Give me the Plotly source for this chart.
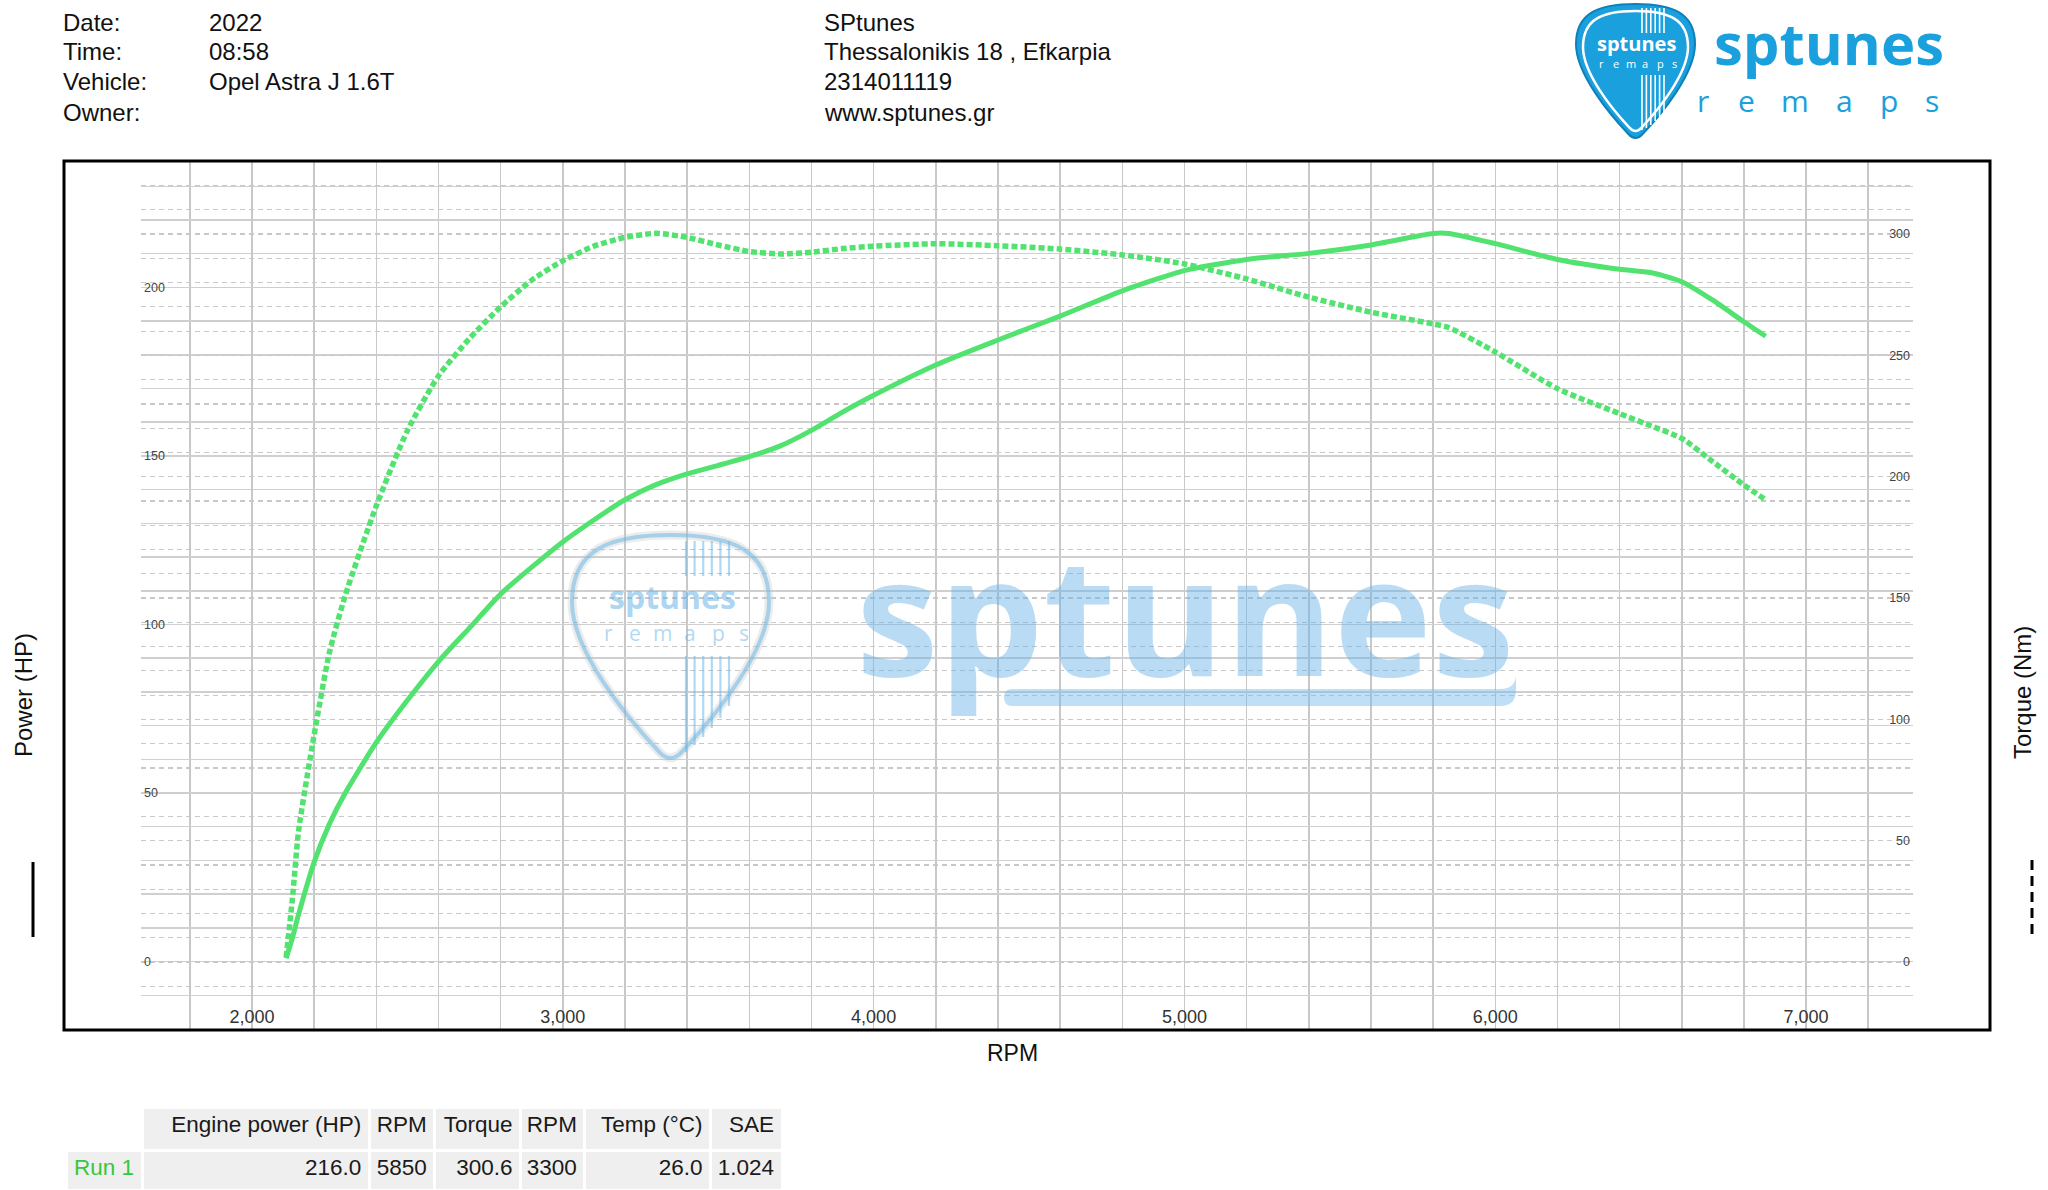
import plotly.graph_objects as go

# ---------------- data ----------------
rpm = [2110, 2130, 2150, 2200, 2250, 2300, 2400, 2500, 2600, 2700, 2800, 2900,
       3000, 3100, 3200, 3300, 3400, 3500, 3600, 3700, 3800, 3900, 4000, 4200,
       4400, 4600, 4800, 5000, 5200, 5400, 5600, 5800, 5850, 6000, 6200, 6400,
       6500, 6600, 6700, 6800, 6870]

power_hp = [1, 7, 14, 29.5, 41, 50, 65, 77.5, 89, 99, 109, 117,
            124.5, 131, 137, 141.5, 144.7, 147.2, 149.8, 153, 157.6, 163, 168, 177,
            184.4, 191.5, 199, 205, 208.3, 210.1, 212.6, 216, 216, 213, 208.3, 205.4,
            204.4, 201.7, 196.2, 189.8, 185.5]

torque_nm = [2, 26, 54, 93.6, 128, 151, 188, 219, 241.5, 257, 270, 281,
             289, 295, 298.6, 300.3, 298.6, 295.5, 292.8, 291.8, 292.5, 294, 295, 296,
             295.2, 293.8, 291.4, 287.7, 281.5, 274, 267.8, 263, 261.5, 251.4, 236.3, 226,
             221, 215.8, 206.2, 196.6, 190.5]

info_labels = ["Date:", "Time:", "Vehicle:", "Owner:"]
info_values = ["2022", "08:58", "Opel Astra J 1.6T", ""]
shop_lines = ["SPtunes", "Thessalonikis 18 , Efkarpia", "2314011119", "www.sptunes.gr"]

table_header = ["", "Engine power (HP)", "RPM", "Torque", "RPM", "Temp (°C)", "SAE"]
table_row = ["Run\u00a01", "216.0", "5850", "300.6", "3300", "26.0", "1.024"]

# ---------------- styling ----------------
W, H = 2048, 1190
PL, PR, PT, PB = 141, 1913, 161, 1030
FONT = "Liberation Sans, Arial, sans-serif"
LOGO_FONT = "Open Sans, Noto Sans, sans-serif"
GREEN = "#52e26f"
BLUE = "#1aa0dc"


def X(x):
    return x / W


def Y(y):
    return 1 - y / H


def P(x, y):
    return f"{X(x):.5f},{Y(y):.5f}"


def pick_path(x0, y0, w, h):
    pts = lambda u, v: P(x0 + u * w, y0 + v * h)
    return (f"M {pts(0.5, 0)} "
            f"C {pts(0.82, 0)} {pts(1.0, 0.07)} {pts(1.0, 0.3)} "
            f"C {pts(1.0, 0.52)} {pts(0.72, 0.82)} {pts(0.56, 0.97)} "
            f"Q {pts(0.5, 1.03)} {pts(0.44, 0.97)} "
            f"C {pts(0.28, 0.82)} {pts(0.0, 0.52)} {pts(0.0, 0.3)} "
            f"C {pts(0.0, 0.07)} {pts(0.18, 0)} {pts(0.5, 0)} Z")


fig = go.Figure()

fig.add_trace(go.Scatter(
    x=rpm, y=power_hp, mode="lines", yaxis="y", hoverinfo="skip", showlegend=False,
    line=dict(color=GREEN, width=5, shape="spline", smoothing=0.6)))
fig.add_trace(go.Scatter(
    x=rpm, y=torque_nm, mode="lines", yaxis="y2", hoverinfo="skip", showlegend=False,
    line=dict(color=GREEN, width=5.5, dash="6px,3px", shape="spline", smoothing=0.6)))

fig.add_trace(go.Table(
    domain=dict(x=[X(66), X(782)], y=[0, Y(1107)]),
    columnwidth=[75, 222, 64, 84, 63, 123, 70],
    header=dict(values=table_header,
                fill=dict(color=["white"] + ["#efefef"] * 6),
                line=dict(color="white", width=3),
                align=["left"] + ["right"] * 6,
                font=dict(family=FONT, size=22.5, color="#1a1a1a"),
                height=43),
    cells=dict(values=[[v] for v in table_row],
               fill=dict(color="#efefef"),
               line=dict(color="white", width=3),
               align=["left"] + ["right"] * 6,
               font=dict(family=FONT, size=22.5, color=["#35c83a"] + ["#1a1a1a"] * 6),
               height=42)))

fig.update_layout(
    width=W, height=H, autosize=False,
    margin=dict(l=0, r=0, t=0, b=0),
    paper_bgcolor="white", plot_bgcolor="white", showlegend=False,
    hovermode=False,
    xaxis=dict(domain=[X(PL), X(PR)], range=[1643, 7344], dtick=1000, tick0=0,
               tickformat=",", ticklabelposition="inside", ticks="",
               showgrid=True, gridcolor="#c8c8c8", gridwidth=1.5,
               minor=dict(dtick=200, tick0=0, showgrid=True, gridcolor="#c8c8c8", gridwidth=1.5),
               zeroline=False, showline=False, automargin=False, fixedrange=True,
               tickfont=dict(family=FONT, size=18, color="#333"), anchor="y"),
    yaxis=dict(domain=[Y(PB), Y(PT)], range=[-20.3, 237.5], dtick=50, tick0=0,
               ticklabelposition="inside", ticks="",
               showgrid=True, gridcolor="#cfcfcf", gridwidth=1.5,
               minor=dict(dtick=10, tick0=0, showgrid=True, gridcolor="#cfcfcf", gridwidth=1.5),
               zeroline=False, showline=False, automargin=False, fixedrange=True,
               tickfont=dict(family=FONT, size=12.5, color="#444"), anchor="x"),
    yaxis2=dict(overlaying="y", side="right", range=[-28, 330.1], dtick=50, tick0=0,
                ticklabelposition="inside", ticks="",
                showgrid=True, gridcolor="#c8c8c8", gridwidth=1.2, griddash="5px,4px",
                minor=dict(dtick=10, tick0=0, showgrid=True, gridcolor="#c8c8c8",
                           gridwidth=1.2, griddash="5px,4px"),
                zeroline=False, showline=False, automargin=False, fixedrange=True,
                tickfont=dict(family=FONT, size=12.5, color="#444"), anchor="x"),
)

shapes = []
# frame
shapes.append(dict(type="rect", xref="paper", yref="paper", x0=X(64), x1=X(1990),
                   y0=Y(1030), y1=Y(161), line=dict(color="black", width=3),
                   fillcolor="rgba(0,0,0,0)"))
# legend line marks
shapes.append(dict(type="line", xref="paper", yref="paper", x0=X(33), x1=X(33),
                   y0=Y(862), y1=Y(937), line=dict(color="black", width=3)))
shapes.append(dict(type="line", xref="paper", yref="paper", x0=X(2032), x1=X(2032),
                   y0=Y(860), y1=Y(937), line=dict(color="black", width=3, dash="10px,6px")))

# top-right logo pick
shapes.append(dict(type="path", xref="paper", yref="paper", path=pick_path(1576, 4, 119, 134),
                   fillcolor=BLUE, line=dict(color="#0e80ba", width=2)))
shapes.append(dict(type="path", xref="paper", yref="paper", path=pick_path(1583, 11, 105, 120),
                   fillcolor="rgba(0,0,0,0)", line=dict(color="white", width=2.5)))
for i, yend in enumerate([130, 128, 125, 121, 117, 112]):
    xs = 1642 + i * 4.4
    shapes.append(dict(type="line", xref="paper", yref="paper", x0=X(xs), x1=X(xs),
                       y0=Y(8), y1=Y(33), line=dict(color="white", width=1.6)))
    shapes.append(dict(type="line", xref="paper", yref="paper", x0=X(xs), x1=X(xs),
                       y0=Y(75), y1=Y(yend), line=dict(color="white", width=1.6)))

# watermark pick
WM = "rgba(110,185,232,0.55)"
shapes.append(dict(type="path", xref="paper", yref="paper", path=pick_path(572, 535, 197, 223),
                   fillcolor="rgba(255,255,255,0)", line=dict(color="rgba(200,200,200,0.35)", width=9)))
shapes.append(dict(type="path", xref="paper", yref="paper", path=pick_path(572, 535, 197, 223),
                   fillcolor="rgba(255,255,255,0)", line=dict(color=WM, width=4)))
for i, yend in enumerate([752, 745, 737, 728, 718, 706]):
    xs = 686 + i * 8.6
    shapes.append(dict(type="line", xref="paper", yref="paper", x0=X(xs), x1=X(xs),
                       y0=Y(541), y1=Y(576), line=dict(color=WM, width=2.2)))
    shapes.append(dict(type="line", xref="paper", yref="paper", x0=X(xs), x1=X(xs),
                       y0=Y(656), y1=Y(yend), line=dict(color=WM, width=2.2)))
# watermark underline bar
shapes.append(dict(type="path", xref="paper", yref="paper",
                   path=(f"M {P(1012, 689)} L {P(1500, 689)} Q {P(1516, 689)} {P(1516, 674)} "
                         f"L {P(1516, 690)} Q {P(1516, 706)} {P(1500, 706)} L {P(1012, 706)} "
                         f"Q {P(1004, 706)} {P(1004, 697)} Q {P(1004, 689)} {P(1012, 689)} Z"),
                   fillcolor="rgba(110,185,232,0.45)", line=dict(width=0)))

fig.update_layout(shapes=shapes)

anns = []


def ann(text, x, y, size, color="#111", xanchor="left", family=FONT, angle=0):
    anns.append(dict(text=text, x=X(x), y=Y(y), xref="paper", yref="paper",
                     showarrow=False, xanchor=xanchor, yanchor="middle", textangle=angle,
                     font=dict(family=family, size=size, color=color)))


hdr_centers = [22, 52, 82, 112]
for lab, val, shop, yc in zip(info_labels, info_values, shop_lines, hdr_centers):
    ann(lab, 61, yc, 24)
    if val:
        ann(val, 207, yc, 24)
    ann(shop, 822, yc, 24)

# axis titles
ann("Power (HP)", 23, 695, 24, xanchor="center", angle=-90)
ann("Torque (Nm)", 2022, 693, 24, xanchor="center", angle=-90)
ann("RPM", 1012, 1053, 23, xanchor="center")

# logo texts
ann("<b>sptunes</b>", 1829, 43, 58, color=BLUE, xanchor="center", family=LOGO_FONT)
for ch, cx in zip("remaps", [1703, 1746, 1795, 1844, 1889, 1932]):
    ann(ch, cx, 100, 30, color=BLUE, xanchor="center", family=LOGO_FONT)
ann("<b>sptunes</b>", 1636, 44, 20, color="white", xanchor="center", family=LOGO_FONT)
for ch, cx in zip("remaps", [1601, 1616, 1631, 1645, 1660, 1674]):
    ann(ch, cx, 63, 11, color="white", xanchor="center", family=LOGO_FONT)

# watermark texts
ann("<b>sptunes</b>", 1185, 612, 166, color="rgba(100,178,230,0.45)", xanchor="center",
    family=LOGO_FONT)
ann("<b>sptunes</b>", 672, 596, 32, color="rgba(100,178,230,0.55)", xanchor="center",
    family=LOGO_FONT)
for ch, cx in zip("remaps", [608, 635, 662, 690, 718, 744]):
    ann(ch, cx, 633, 21, color="rgba(100,178,230,0.5)", xanchor="center", family=LOGO_FONT)

fig.update_layout(annotations=anns)

fig.write_html("out.html", config={"displayModeBar": False, "staticPlot": True},
               post_script="document.body.style.margin='0';document.body.style.overflow='hidden';")
